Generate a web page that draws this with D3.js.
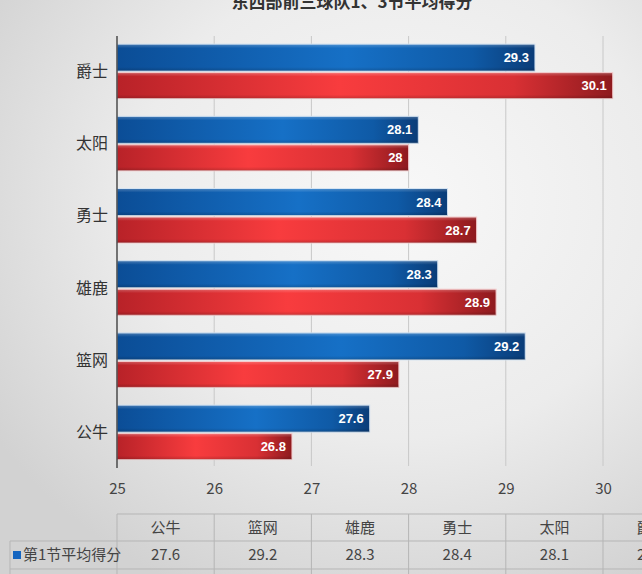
<!DOCTYPE html>
<html><head><meta charset="utf-8">
<script src="https://cdn.jsdelivr.net/npm/d3@7"></script>
<style>html,body{margin:0;padding:0;overflow:hidden;}svg{display:block;}</style>
</head><body>
<svg id="c" width="642" height="574"></svg>
<script>
const title = "东西部前三球队1、3节平均得分";
const categories = ["爵士","太阳","勇士","雄鹿","篮网","公牛"];
const q1 = [29.3, 28.1, 28.4, 28.3, 29.2, 27.6];
const q3 = [30.1, 28.0, 28.7, 28.9, 27.9, 26.8];
const xTicks = [25, 26, 27, 28, 29, 30];
const seriesNames = ["第1节平均得分", "第3节平均得分"];
const tableCategories = ["公牛","篮网","雄鹿","勇士","太阳","爵士"];

const W = 642, H = 574;
const svg = d3.select("#c");
const font = "'Noto Sans CJK SC','Noto Sans',sans-serif";
const defs = svg.append("defs");

// background
const bg = defs.append("radialGradient").attr("id","bg").attr("cx","0.62").attr("cy","0.35").attr("r","0.75");
bg.append("stop").attr("offset","0").attr("stop-color","#f8f8f8");
bg.append("stop").attr("offset","0.55").attr("stop-color","#ececec");
bg.append("stop").attr("offset","1").attr("stop-color","#d2d2d2");
svg.append("rect").attr("width",W).attr("height",H).attr("fill","url(#bg)");

const blueG = defs.append("linearGradient").attr("id","blueG");
[["0","#0b4d96"],["0.55","#1670c6"],["0.85","#0f5aa6"],["1","#0a3c78"]].forEach(([o,c])=>blueG.append("stop").attr("offset",o).attr("stop-color",c));
const redG = defs.append("linearGradient").attr("id","redG");
[["0","#b82228"],["0.45","#f83c3e"],["0.8","#d93034"],["1","#8e1a1e"]].forEach(([o,c])=>redG.append("stop").attr("offset",o).attr("stop-color",c));
const sheen = defs.append("linearGradient").attr("id","sheen").attr("x1",0).attr("x2",0).attr("y1",0).attr("y2",1);
[["0","#ffffff",0.25],["0.15","#ffffff",0.0],["0.85","#000000",0.0],["1","#000000",0.18]].forEach(([o,c,a])=>sheen.append("stop").attr("offset",o).attr("stop-color",c).attr("stop-opacity",a));

const x = d3.scaleLinear().domain([25, 30]).range([117, 603]);
const y = d3.scaleBand().domain(categories).range([36, 469.2]).paddingInner(0);
const plotTop = 36, axisY = 460;

// title
svg.append("text").attr("x",352).attr("y",8).attr("text-anchor","middle")
  .attr("font-family",font).attr("font-weight","bold").attr("font-size",17).attr("fill","#333").text(title);

// gridlines
svg.append("g").selectAll("line").data(xTicks.slice(1)).join("line")
  .attr("x1",d=>x(d)).attr("x2",d=>x(d)).attr("y1",plotTop).attr("y2",axisY+6)
  .attr("stroke","#c8c8c8").attr("stroke-width",1);

// x axis
const xAxis = d3.axisBottom(x).tickValues(xTicks).tickSize(0).tickPadding(23).tickFormat(d3.format("d"));
const gx = svg.append("g").attr("transform",`translate(0,${axisY})`).call(xAxis);
gx.select(".domain").remove();
gx.selectAll("text").attr("font-family",font).attr("font-size",15).attr("fill","#444");

// bars
const bh = 27;
const groups = svg.append("g").selectAll("g").data(categories).join("g")
  .attr("transform",d=>`translate(0,${y(d)+y.bandwidth()/2})`);
function drawBars(vals, off, h, grad, outline) {
  groups.append("rect").attr("x",x(25)).attr("y",off).attr("height",h)
    .attr("width",(d,i)=>x(vals[i])-x(25)).attr("fill",`url(#${grad})`)
    .attr("stroke",outline).attr("stroke-width",1);
  groups.append("rect").attr("x",x(25)).attr("y",off).attr("height",h)
    .attr("width",(d,i)=>x(vals[i])-x(25)).attr("fill","url(#sheen)");
  groups.append("text").attr("x",(d,i)=>x(vals[i])-6).attr("y",off+h/2+4.5)
    .attr("text-anchor","end").attr("font-family","'Liberation Sans Narrow','Liberation Sans',Arial,sans-serif")
    .attr("font-weight","bold").attr("font-size",13).attr("fill","#fff")
    .text((d,i)=>String(vals[i]));
}
drawBars(q1, -28, bh, "blueG", "#d0e0f0");
drawBars(q3, 0.5, 26, "redG", "#f3c9ca");

// y axis
svg.append("line").attr("x1",x(25)).attr("x2",x(25)).attr("y1",plotTop).attr("y2",axisY+8)
  .attr("stroke","#333").attr("stroke-width",1.3);
const yAxis = d3.axisLeft(y).tickSize(0).tickPadding(9);
const gy = svg.append("g").attr("transform",`translate(${x(25)},0)`).call(yAxis);
gy.select(".domain").remove();
gy.selectAll("text").attr("font-family",font).attr("font-size",16).attr("fill","#333").attr("dy","0.3em");

// data table
const tTop = 514, rowH = 27;
const tg = svg.append("g");
const tableMap = {};
categories.forEach((c,i)=>tableMap[c]=q1[i]);
const colX = i => x(25 + i);
const lineC = "#b5b5b5";
tg.append("line").attr("x1",colX(0)).attr("x2",W).attr("y1",tTop).attr("y2",tTop).attr("stroke",lineC);
tg.append("line").attr("x1",10).attr("x2",W).attr("y1",tTop+rowH).attr("y2",tTop+rowH).attr("stroke",lineC);
tg.append("line").attr("x1",10).attr("x2",W).attr("y1",tTop+2*rowH+1).attr("y2",tTop+2*rowH+1).attr("stroke",lineC);
tg.append("line").attr("x1",10).attr("x2",10).attr("y1",tTop+rowH).attr("y2",H).attr("stroke",lineC);
tableCategories.forEach((c,i)=>{
  tg.append("line").attr("x1",colX(i)).attr("x2",colX(i)).attr("y1",tTop).attr("y2",H).attr("stroke",lineC);
  const cx = (colX(i)+colX(i+1))/2;
  tg.append("text").attr("x",cx).attr("y",tTop+19).attr("text-anchor","middle")
    .attr("font-family",font).attr("font-size",15).attr("fill","#444").text(c);
  tg.append("text").attr("x",cx).attr("y",tTop+rowH+19).attr("text-anchor","middle")
    .attr("font-family",font).attr("font-size",15).attr("fill","#444").text(tableMap[c]);
});
tg.append("line").attr("x1",colX(6)).attr("x2",colX(6)).attr("y1",tTop).attr("y2",H).attr("stroke",lineC);
tg.append("rect").attr("x",13).attr("y",tTop+rowH+10).attr("width",8).attr("height",8).attr("fill","#1565c0");
tg.append("text").attr("x",23).attr("y",tTop+rowH+19).attr("font-family",font).attr("font-size",15)
  .attr("fill","#444").text(seriesNames[0]);
</script>
</body></html>
